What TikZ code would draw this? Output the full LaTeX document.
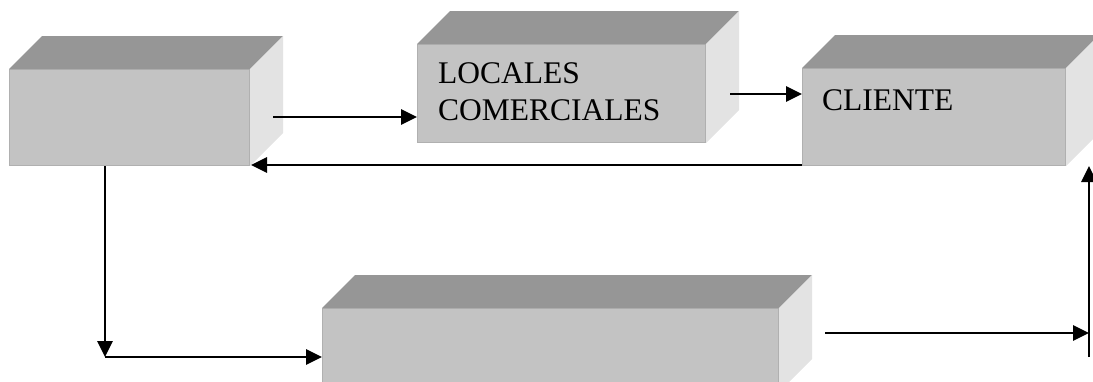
\documentclass[tikz,border=0pt]{standalone}
\usepackage{fontspec}
\setmainfont{Liberation Serif}
\usetikzlibrary{arrows.meta,calc}
\definecolor{frontc}{HTML}{C3C3C3}
\definecolor{topc}{HTML}{969696}
\definecolor{sidec}{HTML}{E3E3E3}
\definecolor{edgec}{HTML}{B0B0B0}
\tikzset{
  face/.style={rectangle, fill=frontc, draw=edgec, line width=1pt, inner sep=0pt, anchor=north west},
  conn/.style={line width=2.8pt, -{Triangle[length=16pt,width=15pt]}},
  lbl/.style={font=\fontsize{31.5}{37}\selectfont, align=left, inner sep=0pt, anchor=base west}
}
\newcommand\prismfaces[1]{%
  \fill[topc] (#1.north west) -- ($(#1.north west)+(33,-33)$) -- ($(#1.north east)+(33,-33)$) -- (#1.north east) -- cycle;
  \fill[sidec] (#1.north east) -- ($(#1.north east)+(33,-33)$) -- ($(#1.south east)+(33,-33)$) -- (#1.south east) -- cycle;
}
\begin{document}
\begin{tikzpicture}[x=1pt,y=-1pt]
\useasboundingbox (0,0) rectangle (1093,381);
\clip (0,0) rectangle (1093,381);
% boxes
\node[face, minimum width=240pt, minimum height=96pt] (b1) at (9,69) {};
\node[face, minimum width=288pt, minimum height=98pt] (b2) at (417,44) {};
\node[face, minimum width=263pt, minimum height=97pt] (b3) at (802,68) {};
\node[face, minimum width=456pt, minimum height=83pt] (b4) at (322,308) {};
\prismfaces{b1}
\prismfaces{b2}
\prismfaces{b3}
\prismfaces{b4}
% labels
\node[lbl] (t2) at (438,120) {LOCALES\\COMERCIALES};
\node[lbl] (t3) at (822,110) {CLIENTE};
% connector points
\coordinate (s1) at (273,117);
\coordinate (s2) at (730,94);
\coordinate (c1) at (105,357);
\coordinate (s5) at (825,333);
\coordinate (c5) at (1089,357);
% connectors
\draw[conn] (s1) -- (s1 -| b2.west);
\draw[conn] (s2) -- (s2 -| b3.west);
\draw[conn] ($(b3.south west)+(0,-1)$) -- ($(b1.south east)+(1,-1)$);
\draw[conn] (b1.south -| c1) -- (c1);
\draw[conn] (c1) -- (c1 -| b4.west);
\draw[conn] (s5) -- (s5 -| c5);
\draw[conn] (c5) -- (c5 |- b3.south);
\end{tikzpicture}
\end{document}
